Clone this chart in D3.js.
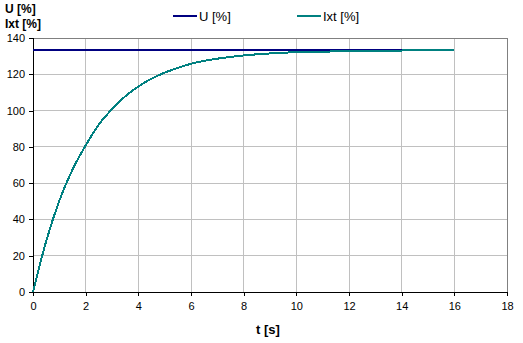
<!DOCTYPE html>
<html>
<head>
<meta charset="utf-8">
<script src="https://cdn.jsdelivr.net/npm/d3@7/dist/d3.min.js"></script>
<style>
  html, body { margin: 0; padding: 0; background: #fff; }
  svg { display: block; font-family: "Liberation Sans", Arial, sans-serif; }
</style>
</head>
<body>
<svg id="chart" width="523" height="343"></svg>
<script>
// Time axis samples [s]
const time = [0, 0.5, 1, 1.5, 2, 2.5, 3, 3.5, 4, 4.5, 5, 5.5, 6, 6.5, 7, 7.5, 8,
  8.5, 9, 9.5, 10, 10.5, 11, 11.5, 12, 12.5, 13, 13.5, 14, 14.5, 15, 15.5, 16];
// Thermal current Ixt [%]
const ixt = [0, 28.0, 50.3, 67.5, 80.8, 92.3, 100.8, 107.8, 113.3, 117.6, 120.9,
  123.5, 125.8, 127.4, 128.6, 129.6, 130.4, 131.0, 131.5, 131.9, 132.2, 132.4,
  132.5, 132.6, 132.7, 132.8, 132.9, 133.0, 133.1, 133.2, 133.2, 133.3, 133.3];
// Voltage U [%] (constant)
const uTime = [0, 16];
const uVal = [133.3, 133.3];

const xTicks = [0, 2, 4, 6, 8, 10, 12, 14, 16, 18];
const yTicks = [0, 20, 40, 60, 80, 100, 120, 140];

const seriesNames = ["U [%]", "Ixt [%]"];
const seriesColors = ["#000080", "#008080"];

const svg = d3.select("#chart");
const plotL = 33, plotR = 507, plotT = 38, plotB = 292;

const x = d3.scaleLinear().domain([0, 18]).range([plotL, plotR]);
const y = d3.scaleLinear().domain([0, 140]).range([plotB, plotT]);

// gridlines
const grid = svg.append("g").attr("shape-rendering", "crispEdges");
grid.selectAll(".gx").data(xTicks.slice(1)).join("line")
  .attr("x1", d => x(d)).attr("x2", d => x(d))
  .attr("y1", plotT).attr("y2", plotB)
  .attr("stroke", "#c0c0c0");
grid.selectAll(".gy").data(yTicks.slice(1)).join("line")
  .attr("x1", plotL).attr("x2", plotR)
  .attr("y1", d => y(d)).attr("y2", d => y(d))
  .attr("stroke", "#c0c0c0");

// plot frame (top and right)
svg.append("path")
  .attr("d", `M${plotL},${plotT + 0.5}H${plotR + 0.5}V${plotB}`)
  .attr("fill", "none").attr("stroke", "#808080")
  .attr("shape-rendering", "crispEdges");

// axes
const xAxis = d3.axisBottom(x).tickValues(xTicks).tickSize(4).tickPadding(6)
  .tickFormat(d3.format("d"));
const yAxis = d3.axisLeft(y).tickValues(yTicks).tickSize(4).tickPadding(4)
  .tickFormat(d3.format("d"));

const gx = svg.append("g").attr("transform", `translate(0,${plotB})`).call(xAxis);
const gy = svg.append("g").attr("transform", `translate(${plotL},0)`).call(yAxis);
[gx, gy].forEach(g => {
  g.select(".domain").attr("stroke", "#000").attr("shape-rendering", "crispEdges");
  g.selectAll(".tick line").attr("stroke", "#000").attr("shape-rendering", "crispEdges");
  g.selectAll(".tick text").attr("fill", "#000")
    .style("font-family", "'Liberation Sans', Arial, sans-serif").style("font-size", "11px");
});
gx.select(".domain").attr("d", `M${plotL},0.5H${plotR}`);
gy.select(".domain").attr("d", `M0.5,${plotB}V${plotT}`);

// series lines
const line = d3.line().x(d => x(d[0])).y(d => y(d[1]));
svg.append("path")
  .datum(uTime.map((t, i) => [t, uVal[i]]))
  .attr("d", line)
  .attr("fill", "none").attr("stroke", seriesColors[0]).attr("stroke-width", 2)
  .attr("shape-rendering", "crispEdges");
svg.append("path")
  .datum(time.map((t, i) => [t, ixt[i]]))
  .attr("d", line.curve(d3.curveMonotoneX))
  .attr("fill", "none").attr("stroke", seriesColors[1]).attr("stroke-width", 2)
  .attr("shape-rendering", "crispEdges");

// axis titles
svg.append("text").attr("x", 5).attr("y", 13)
  .attr("font-size", 12).attr("font-weight", "bold").text("U [%]");
svg.append("text").attr("x", 5).attr("y", 28)
  .attr("font-size", 12).attr("font-weight", "bold").text("Ixt [%]");
svg.append("text").attr("x", 268).attr("y", 334).attr("text-anchor", "middle")
  .attr("font-size", 13).attr("font-weight", "bold").text("t [s]");

// legend
const legendX = [173, 297];
const legend = svg.selectAll(".legend").data(seriesNames).join("g")
  .attr("transform", (d, i) => `translate(${legendX[i]},16)`);
legend.append("line").attr("x1", 0).attr("x2", 24).attr("y1", 0).attr("y2", 0)
  .attr("stroke", (d, i) => seriesColors[i]).attr("stroke-width", 2)
  .attr("shape-rendering", "crispEdges");
legend.append("text").attr("x", 26).attr("y", 5).attr("font-size", 13)
  .text(d => d);
</script>
</body>
</html>
